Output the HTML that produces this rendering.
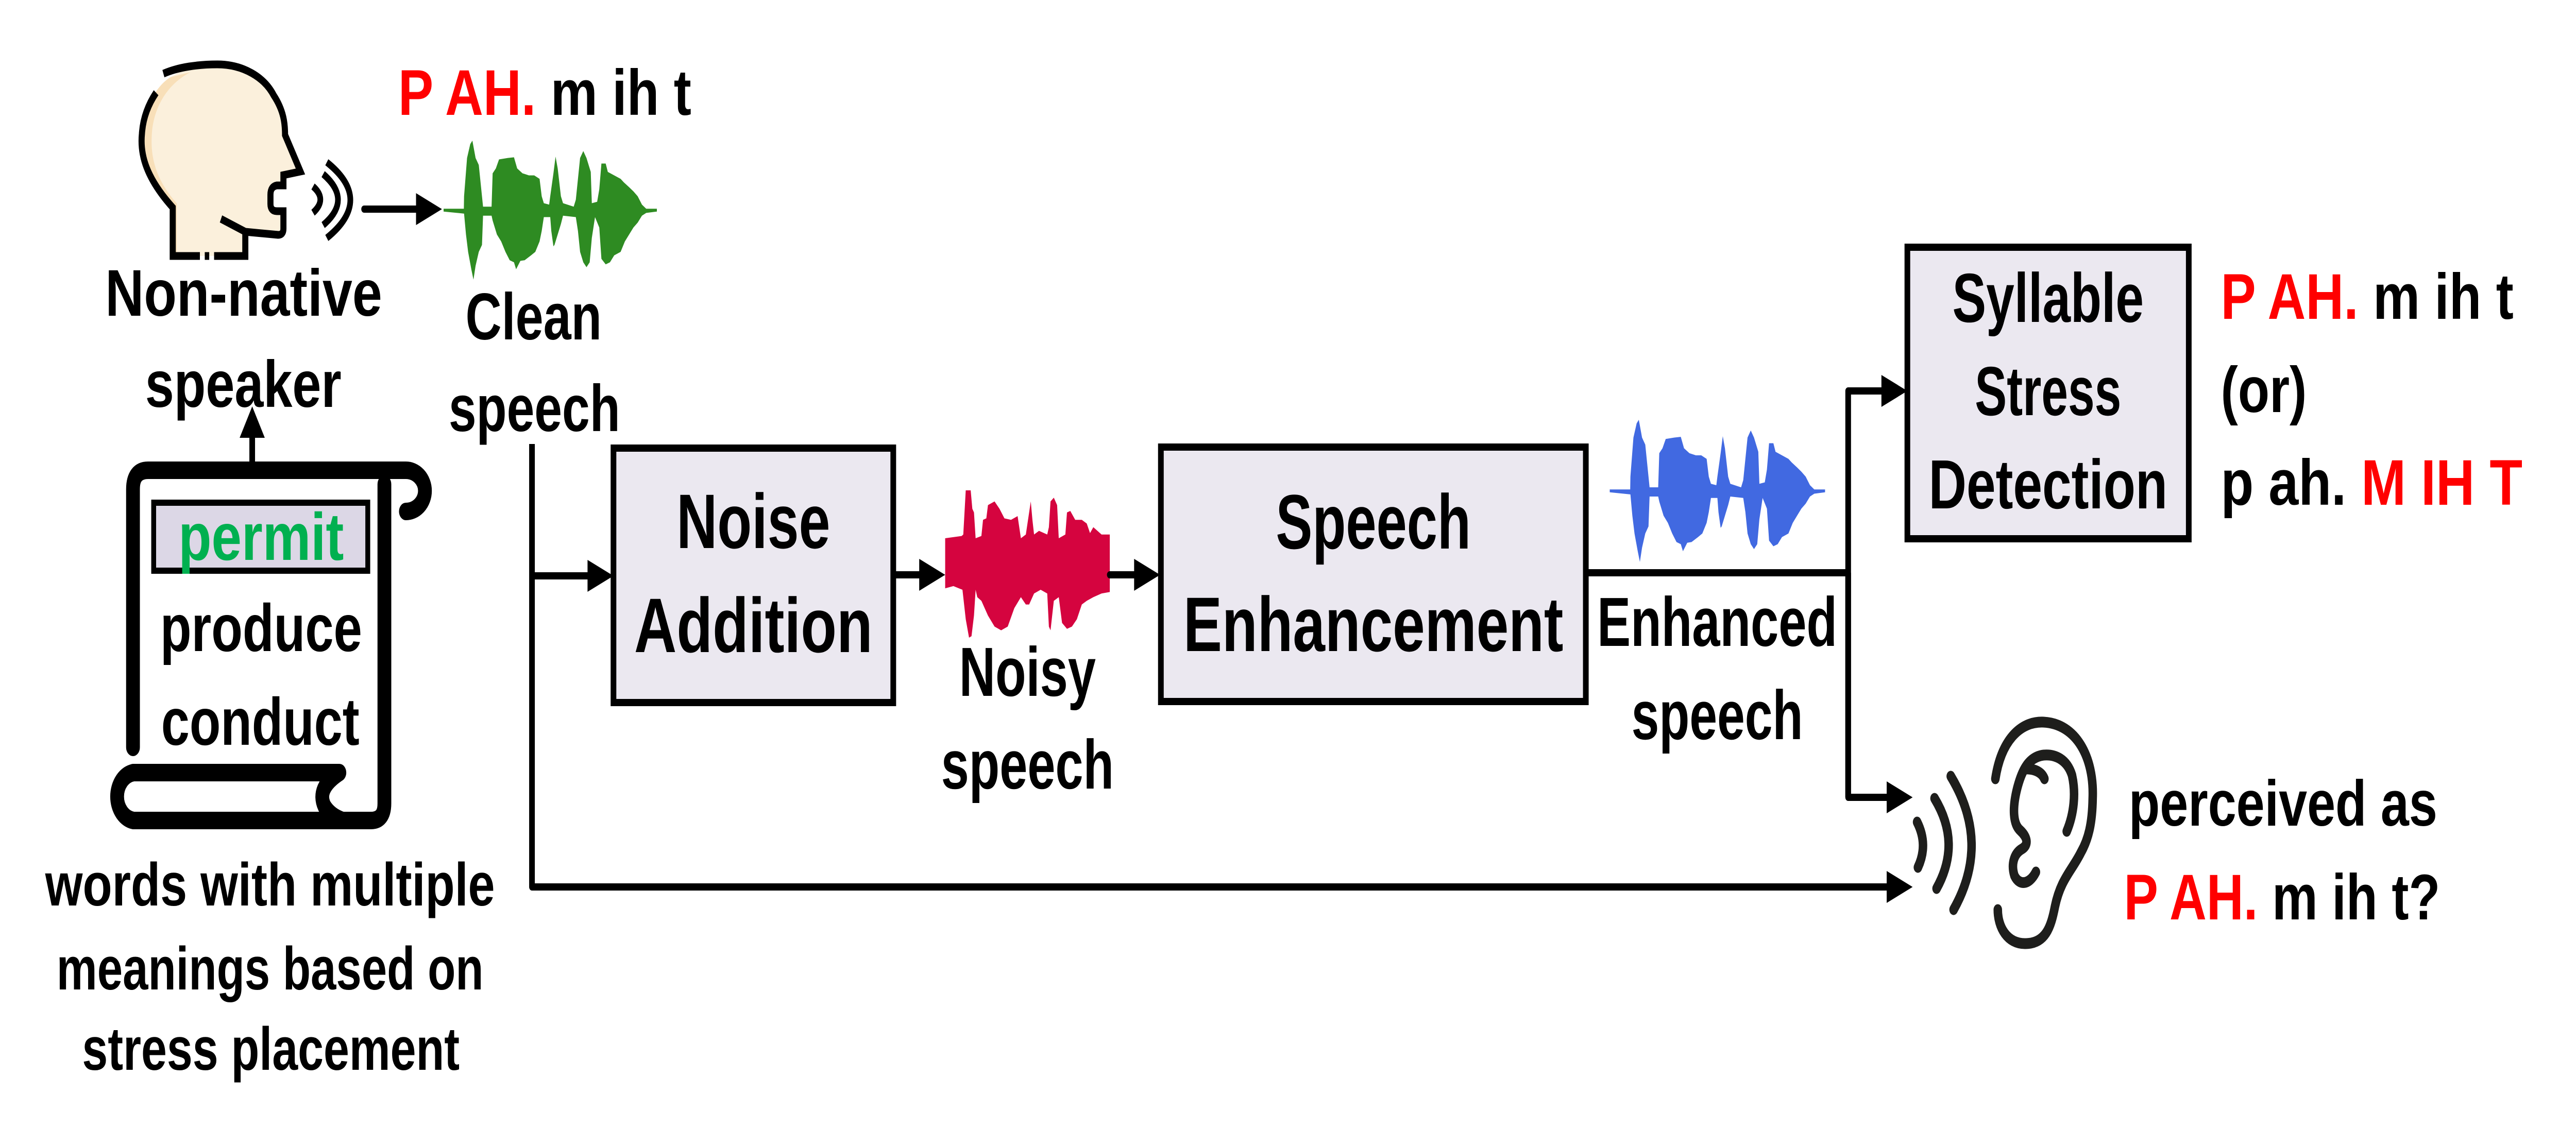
<!DOCTYPE html>
<html><head><meta charset="utf-8"><style>
html,body{margin:0;padding:0;background:#fff;width:100%;height:100%;overflow:hidden;}
svg{display:block;width:100vw;height:100vh;}
text{font-family:"Liberation Sans",sans-serif;font-weight:bold;}
</style></head><body>
<svg viewBox="0 0 6353 2223" preserveAspectRatio="none" xmlns="http://www.w3.org/2000/svg">
<defs>
<polygon id="speech" points="0,-.02 9.5,-.02 9.6,-.2 11,-.75 12.5,-.95 13.5,-1 15,-.75 16.5,-.65 18,-.2 18.5,-.05 22.5,-.05 23,-.53 24.5,-.6 26,-.73 30,-.75 33,-.76 34.5,-.6 37,-.53 40,-.5 42.5,-.5 45,-.45 46,-.2 47,-.1 49.5,-.08 50,-.2 51.5,-.53 52.5,-.77 53.5,-.6 55,-.2 56,-.1 61,-.05 62,-.15 63,-.45 64,-.75 65.5,-.85 67,-.75 69,-.55 69.5,-.1 72,-.12 73,-.3 74,-.67 76,-.67 77,-.55 80,-.5 83,-.45 84.5,-.4 87,-.33 89,-.27 91,-.2 93,-.08 95,-.02 100,-.02 100,.02 95,.04 93,.08 91,.18 89,.25 87,.35 85,.45 83,.6 80,.65 78,.75 76,.78 74,.7 73,.25 71,.1 69.5,.4 68.5,.75 67,.82 65.5,.75 64,.6 63,.3 62,.1 56,.08 55,.2 54,.3 53,.4 52,.5 51.5,.52 50.5,.3 50,.1 47,.1 46,.3 45,.45 43,.6 41,.65 38,.72 36,.73 34,.85 33,.75 31,.72 29,.6 27,.45 25,.35 23,.15 22.5,.08 18.5,.08 18,.5 16.5,.6 15,.8 14,1 13,.85 11.5,.6 10.5,.35 9.6,.05 0,.02"/>
</defs>

<path d="M536,125 C600,125 652,150 675,185 C700,215 703,240 703,262 L741,333 L699,340 L699,360 L683,360 Q667,362 667,378 L667,396 Q667,410 683,410 L699,410 L699,444 Q699,456 686,456 L605,450 L605,497 L426,497 L426,403 C360,345 345,300 350,260 C355,215 380,170 420,150 C460,130 500,125 536,125 Z" fill="#fbf0dc" stroke="none"/>
<path d="M420,150 C380,170 355,215 350,260 C345,300 360,345 426,403 L426,497 L436,497 L436,395 C380,345 370,300 375,255 C382,200 420,160 470,140 Z" fill="#f8dfb8"/>
<path d="M403,143 C440,130 490,125 536,125 C600,125 652,150 675,185 C700,215 703,240 703,262 L741,333 L699,340 L699,360 L683,360 Q667,362 667,378 L667,396 Q667,410 683,410 L699,410 L699,444 Q699,456 686,456 L605,450 M545,425 L605,450 L605,497 L528,497 M516,497 L505,497 M493,497 L426,497 L426,403 C360,345 345,300 350,260 C352,235 362,207 385,180" fill="none" stroke="#000" stroke-width="15"/>
<path d="M772,362 Q808,387 772,413" fill="none" stroke="#000" stroke-width="14"/>
<path d="M797,338 Q870,388 797,437" fill="none" stroke="#000" stroke-width="14"/>
<path d="M806,315 Q922,388 806,462" fill="none" stroke="#000" stroke-width="14"/>
<line x1="898" y1="406" x2="1030" y2="406" stroke="#000" stroke-width="14" stroke-linecap="round"/>
<polygon points="1090,406 1026,375 1026,437" fill="#000"/>

<g transform="translate(1094,408) scale(5.26,135)" fill="#2e8b22"><use href="#speech"/></g>
<g transform="translate(3970,953) scale(5.31,138)" fill="#4169e1"><use href="#speech"/></g>
<g transform="translate(2331,1095) scale(4.06,143)" fill="#d5043f">
<polygon points="0,-.35 10,-.38 11,-.4 12.5,-1 15.5,-1 16.5,-.75 17.5,-.7 18.5,-.35 22,-.38 23,-.6 25,-.62 26,-.8 30,-.85 33,-.75 36,-.62 40,-.6 44,-.65 45,-.5 46,-.35 49,-.4 52,-.85 53,-.6 54,-.4 57,-.45 62,-.4 63,-.5 64,-.85 66,-.9 68,-.8 69,-.35 73,-.4 74,-.7 76,-.72 79,-.6 83,-.6 86,-.55 88,-.42 90,-.5 95,-.4 100,-.4 100,.38 95,.4 90,.45 86,.5 83,.55 80,.75 77,.85 74,.88 71,.8 69,.45 66,.5 64,.9 63,.85 62,.4 58,.35 54,.4 51,.55 49,.55 46,.45 42,.6 38,.85 34,.9 30,.85 26,.7 22,.5 19.5,.45 18.5,.35 17.5,.7 16,.98 14.5,1 12.5,.75 10.5,.35 5,.3 0,.33"/>
</g>

<text x="982" y="223" font-size="125" textLength="723" lengthAdjust="spacingAndGlyphs"><tspan fill="#ff0000">P AH.</tspan><tspan fill="#000"> m ih t</tspan></text>
<text x="601" y="613" font-size="128" text-anchor="middle" textLength="683" lengthAdjust="spacingAndGlyphs">Non-native</text>
<text x="600" y="790" font-size="128" text-anchor="middle" textLength="484" lengthAdjust="spacingAndGlyphs">speaker</text>
<text x="1316" y="659" font-size="128" text-anchor="middle" textLength="336" lengthAdjust="spacingAndGlyphs">Clean</text>
<text x="1318" y="837" font-size="128" text-anchor="middle" textLength="423" lengthAdjust="spacingAndGlyphs">speech</text>

<path d="M328,1451 V950 Q328,913 365,913 H1001 A47,40 0 0 1 1001,993" fill="none" stroke="#000" stroke-width="34" stroke-linecap="round"/>
<path d="M948,940 V1560 Q948,1593 915,1593 H329 A47,47 0 0 1 329,1500 H837 Q780,1530 800,1565 Q815,1585 845,1593" fill="none" stroke="#000" stroke-width="34" stroke-linejoin="round" stroke-linecap="round"/>
<rect x="379" y="976" width="528" height="132" fill="#dcd7e6" stroke="#000" stroke-width="12"/>
<text x="644" y="1087" font-size="130" fill="#00b050" text-anchor="middle" textLength="408" lengthAdjust="spacingAndGlyphs">permit</text>
<text x="644" y="1264" font-size="130" text-anchor="middle" textLength="498" lengthAdjust="spacingAndGlyphs">produce</text>
<text x="642" y="1446" font-size="130" text-anchor="middle" textLength="489" lengthAdjust="spacingAndGlyphs">conduct</text>
<line x1="622" y1="900" x2="622" y2="840" stroke="#000" stroke-width="14"/>
<polygon points="622,789 591,850 653,850" fill="#000"/>

<text x="666" y="1758" font-size="118" text-anchor="middle" textLength="1109" lengthAdjust="spacingAndGlyphs">words with multiple</text>
<text x="666" y="1921" font-size="118" text-anchor="middle" textLength="1053" lengthAdjust="spacingAndGlyphs">meanings based on</text>
<text x="668" y="2077" font-size="118" text-anchor="middle" textLength="931" lengthAdjust="spacingAndGlyphs">stress placement</text>

<path d="M1312,862 V1722 H4660" fill="none" stroke="#000" stroke-width="14" stroke-linejoin="round"/>
<polygon points="4717,1722 4653,1691 4653,1753" fill="#000"/>
<line x1="1312" y1="1118" x2="1460" y2="1118" stroke="#000" stroke-width="14"/>
<polygon points="1513,1118 1449,1087 1449,1149" fill="#000"/>

<rect x="1513" y="870" width="690" height="494" fill="#ebe8f0" stroke="#000" stroke-width="14"/>
<text x="1858" y="1064" font-size="150" text-anchor="middle" textLength="379" lengthAdjust="spacingAndGlyphs">Noise</text>
<text x="1858" y="1266" font-size="150" text-anchor="middle" textLength="588" lengthAdjust="spacingAndGlyphs">Addition</text>
<line x1="2203" y1="1116" x2="2280" y2="1116" stroke="#000" stroke-width="14"/>
<polygon points="2331,1116 2267,1085 2267,1147" fill="#000"/>
<line x1="2737" y1="1116" x2="2810" y2="1116" stroke="#000" stroke-width="14" stroke-linecap="round"/>
<polygon points="2861,1116 2797,1085 2797,1147" fill="#000"/>
<text x="2534" y="1351" font-size="135" text-anchor="middle" textLength="337" lengthAdjust="spacingAndGlyphs">Noisy</text>
<text x="2534" y="1531" font-size="135" text-anchor="middle" textLength="426" lengthAdjust="spacingAndGlyphs">speech</text>

<rect x="2863" y="868" width="1048" height="494" fill="#ebe8f0" stroke="#000" stroke-width="14"/>
<text x="3387" y="1065" font-size="150" text-anchor="middle" textLength="481" lengthAdjust="spacingAndGlyphs">Speech</text>
<text x="3387" y="1264" font-size="150" text-anchor="middle" textLength="937" lengthAdjust="spacingAndGlyphs">Enhancement</text>
<text x="4235" y="1254" font-size="135" text-anchor="middle" textLength="592" lengthAdjust="spacingAndGlyphs">Enhanced</text>
<text x="4235" y="1435" font-size="135" text-anchor="middle" textLength="423" lengthAdjust="spacingAndGlyphs">speech</text>

<path d="M3911,1112 H4558 M4558,1548 V759 H4650" fill="none" stroke="#000" stroke-width="14" stroke-linejoin="round"/>
<path d="M4558,1112 V1548 H4660" fill="none" stroke="#000" stroke-width="14" stroke-linejoin="round"/>
<polygon points="4704,759 4640,728 4640,790" fill="#000"/>
<polygon points="4717,1548 4653,1517 4653,1579" fill="#000"/>

<rect x="4704" y="480" width="694" height="566" fill="#ebe8f0" stroke="#000" stroke-width="14"/>
<text x="5051" y="625" font-size="135" text-anchor="middle" textLength="472" lengthAdjust="spacingAndGlyphs">Syllable</text>
<text x="5051" y="806" font-size="135" text-anchor="middle" textLength="361" lengthAdjust="spacingAndGlyphs">Stress</text>
<text x="5051" y="987" font-size="135" text-anchor="middle" textLength="589" lengthAdjust="spacingAndGlyphs">Detection</text>

<text x="5477" y="619" font-size="125" textLength="722" lengthAdjust="spacingAndGlyphs"><tspan fill="#ff0000">P AH.</tspan><tspan fill="#000"> m ih t</tspan></text>
<text x="5477" y="800" font-size="125" textLength="212" lengthAdjust="spacingAndGlyphs">(or)</text>
<text x="5477" y="980" font-size="125" textLength="744" lengthAdjust="spacingAndGlyphs"><tspan fill="#000">p ah. </tspan><tspan fill="#ff0000">M IH T</tspan></text>

<g fill="none" stroke="#1e1e1c" stroke-width="21" stroke-linecap="round" stroke-linejoin="round">
<path d="M4728,1596 Q4756,1640 4730,1684"/>
<path d="M4771,1550 Q4838,1637 4776,1725"/>
<path d="M4811,1507 Q4910,1637 4818,1766"/>
<path d="M4921,1512 C4935,1440 4980,1400 5040,1402 C5120,1405 5165,1470 5161,1550 C5160,1600 5150,1630 5132,1655 C5110,1690 5082,1707 5068,1760 C5058,1800 5045,1832 4994,1832 C4950,1832 4927,1800 4927,1766"/>
<path d="M5097,1614 C5115,1580 5120,1540 5110,1505 C5098,1475 5070,1464 5040,1466 C5000,1470 4985,1500 4975,1530 C4962,1570 4965,1600 4982,1612 C5000,1625 5004,1640 4987,1648 C4965,1658 4960,1680 4968,1700 C4980,1720 5005,1718 5021,1693"/>
<path d="M4994,1493 C5015,1492 5035,1498 5042,1512"/>
</g>
<text x="5250" y="1603" font-size="125" textLength="761" lengthAdjust="spacingAndGlyphs">perceived as</text>
<text x="5238" y="1785" font-size="125" textLength="780" lengthAdjust="spacingAndGlyphs"><tspan fill="#ff0000">P AH.</tspan><tspan fill="#000"> m ih t?</tspan></text>
</svg>
</body></html>
